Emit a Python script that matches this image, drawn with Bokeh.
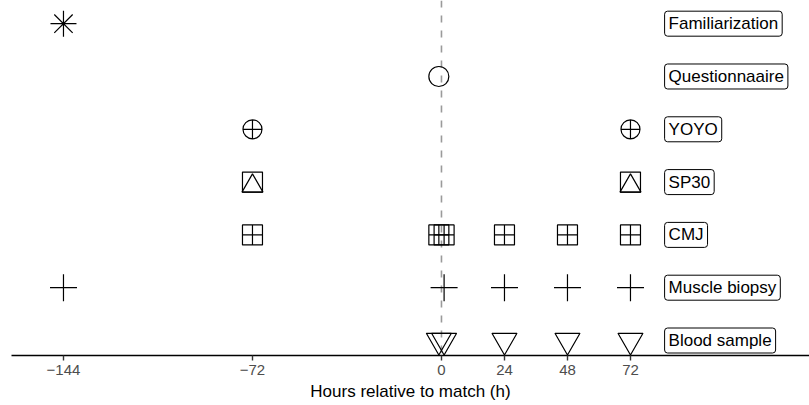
import math

from bokeh.core.properties import value
from bokeh.embed import file_html
from bokeh.models import FixedTicker, Range1d, Span
from bokeh.plotting import figure
from bokeh.resources import INLINE

# Study timeline: which measurement happens at which hour relative to the match
activities = ["Familiarization", "Questionnaaire", "YOYO", "SP30", "CMJ",
              "Muscle biopsy", "Blood sample"]

familiarization_h = [-144]
questionnaire_h = [-1]
yoyo_h = [-72, 72]
sp30_h = [-72, 72]
cmj_h = [-72, -1, 1, 24, 48, 72]
biopsy_h = [-144, 1, 24, 48, 72]
blood_h = [-1, 1, 24, 48, 72]

tick_hours = [-144, -72, 0, 24, 48, 72]
tick_labels = ["\u2212144", "\u221272", "0", "24", "48", "72"]
label_hour = 85

# one row per activity, top to bottom
row = {name: len(activities) - i for i, name in enumerate(activities)}

W, H = 809, 405
LEFT, BOTTOM = 11, 50
y_start, y_end = 0.716, 7.439
frame_h = H - BOTTOM

p = figure(width=W, height=H,
           x_range=Range1d(-163.8, 140.2), y_range=Range1d(y_start, y_end),
           output_backend="svg", toolbar_location=None, y_axis_location=None,
           min_border_left=LEFT, min_border_right=0, min_border_top=0,
           min_border_bottom=BOTTOM)
p.outline_line_color = None
p.grid.visible = False
p.background_fill_color = "white"
p.border_fill_color = "white"

# match time
p.add_layout(Span(location=0, dimension="height", line_color="#9a9a9a",
                  line_width=1.6, line_dash="7 8", level="underlay"))

ink = dict(line_color="black", fill_color=None, line_width=1.2)


def put(hours, name, marker, size, dy=0.0):
    p.scatter(x=hours, y=[row[name] + dy] * len(hours), marker=marker,
              size=size, **ink)


put(familiarization_h, "Familiarization", "asterisk", 26)
put(questionnaire_h, "Questionnaaire", "circle", 20)
put(yoyo_h, "YOYO", "circle_cross", 19)

# square with an inscribed upward triangle: shift the triangle so its base
# sits on the square's bottom edge
sq = 20
tri = 21
px_per_row = frame_h / (y_end - y_start)
shift_px = sq / 2 - (tri / 2) * math.sqrt(3) / 3
put(sp30_h, "SP30", "square", sq)
put(sp30_h, "SP30", "triangle", tri, dy=-shift_px / px_per_row)

put(cmj_h, "CMJ", "square_cross", 20)
put(biopsy_h, "Muscle biopsy", "cross", 27)
put(blood_h, "Blood sample", "inverted_triangle", 25)

# boxed activity labels
p.text(x=[label_hour] * len(activities), y=[row[n] for n in activities],
       text=activities, text_font=value("Liberation Sans"),
       text_font_size="17px", text_color="black",
       text_align="left", text_baseline="middle",
       background_fill_color="white", border_line_color="black",
       border_line_width=1, border_radius=3, padding=[4, 3])

ax = p.xaxis[0]
ax.ticker = FixedTicker(ticks=tick_hours)
ax.major_label_overrides = {h: t for h, t in zip(tick_hours, tick_labels)}
ax.axis_label = "Hours relative to match (h)"
ax.axis_label_text_font = "Liberation Sans"
ax.axis_label_text_font_size = "17px"
ax.axis_label_text_font_style = "normal"
ax.axis_label_text_color = "black"
ax.axis_label_standoff = 4
ax.major_label_text_font = "Liberation Sans"
ax.major_label_text_font_size = "15px"
ax.major_label_text_color = "#4d4d4d"
ax.major_label_standoff = 4
ax.axis_line_color = "black"
ax.axis_line_width = 1.6
ax.major_tick_line_color = "#333333"
ax.major_tick_line_width = 1.4
ax.major_tick_out = 5
ax.major_tick_in = 0
ax.minor_tick_line_color = None

open("out.html", "w").write(file_html(p, INLINE))
